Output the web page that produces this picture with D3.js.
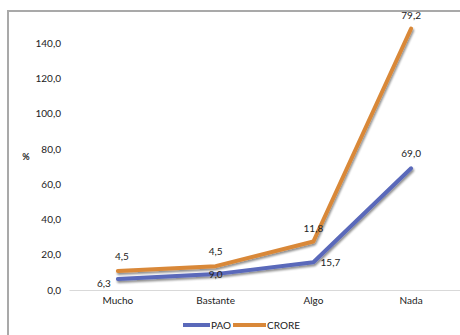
<!DOCTYPE html>
<html><head><meta charset="utf-8">
<script src="https://cdn.jsdelivr.net/npm/d3@7"></script>
<style>body{margin:0;background:#fff}svg{display:block}text{font-family:Lato,"Open Sans",sans-serif}</style>
</head><body>
<script>
const categories = ["Mucho","Bastante","Algo","Nada"];
const paoValues = [6.3, 9.0, 15.7, 69.0];
const croreValues = [4.5, 4.5, 11.8, 79.2];
const yTicks = [0,20,40,60,80,100,120,140];
const seriesNames = ["PAO","CRORE"];
const colors = {PAO:"#5A69BA", CRORE:"#D98839"};

const W=460,H=335;
const svg=d3.select("body").append("svg").attr("width",W).attr("height",H);
const defs=svg.append("defs");
const f=defs.append("filter").attr("id","sh").attr("x","-20%").attr("y","-20%").attr("width","140%").attr("height","140%");
f.append("feGaussianBlur").attr("in","SourceAlpha").attr("stdDeviation",1.3).attr("result","b");
f.append("feOffset").attr("in","b").attr("dx",1).attr("dy",1.5).attr("result","o");
f.append("feComponentTransfer").attr("in","o").attr("result","o2").append("feFuncA").attr("type","linear").attr("slope",0.45);
const m=f.append("feMerge");m.append("feMergeNode").attr("in","o2");m.append("feMergeNode").attr("in","SourceGraphic");

// frame
svg.append("rect").attr("x",8).attr("y",11).attr("width",470).attr("height",340)
  .attr("fill","none").attr("stroke","#a9a9a9").attr("stroke-width",2);

const x=d3.scaleBand().domain(categories).range([69,460]);
const y=d3.scaleLinear().domain([0,140]).range([290,43]);

// y axis labels
const ya=svg.append("g").attr("transform","translate(61,0)")
  .call(d3.axisLeft(y).tickValues(yTicks).tickSize(0).tickPadding(0).tickFormat(d=>d3.format(".1f")(d).replace(".",",")));
ya.select(".domain").remove();
ya.selectAll("text").attr("font-size",10).attr("fill","#222").attr("font-family","Lato,sans-serif");

// x axis
const xa=svg.append("g").attr("transform","translate(0,290)").call(d3.axisBottom(x).tickSize(0).tickPadding(7));
xa.select(".domain").attr("stroke","#d9d9d9").attr("stroke-width",1);
xa.selectAll("text").attr("font-size",10).attr("fill","#222").attr("font-family","Lato,sans-serif");

svg.append("text").attr("x",26).attr("y",160).attr("text-anchor","middle").attr("font-size",9).attr("font-weight","bold").attr("fill","#222").text("%");

const pao=categories.map((c,i)=>({c,v:paoValues[i],top:paoValues[i]}));
const crore=categories.map((c,i)=>({c,v:croreValues[i],top:paoValues[i]+croreValues[i]}));
const cx=c=>x(c)+x.bandwidth()/2;
const line=d3.line().x(d=>cx(d.c)).y(d=>y(d.top));

[["CRORE",crore],["PAO",pao]].forEach(([n,d])=>{
  svg.append("path").datum(d).attr("d",line).attr("fill","none").attr("stroke",colors[n])
    .attr("stroke-width",4).attr("stroke-linejoin","round").attr("stroke-linecap","round").attr("filter","url(#sh)");
});

const fmt=v=>d3.format(".1f")(v).replace(".",",");
const paoOff=[[-14,8],[0,4],[17,4],[0,-11]];
const croreOff=[[4,-11],[0,-11],[0,-9],[0,-10]];
svg.append("g").selectAll("text").data(pao).join("text")
  .attr("x",(d,i)=>cx(d.c)+paoOff[i][0]).attr("y",(d,i)=>y(d.top)+paoOff[i][1])
  .attr("text-anchor","middle").attr("font-size",10).attr("fill","#222").text(d=>fmt(d.v));
svg.append("g").selectAll("text").data(crore).join("text")
  .attr("x",(d,i)=>cx(d.c)+croreOff[i][0]).attr("y",(d,i)=>y(d.top)+croreOff[i][1])
  .attr("text-anchor","middle").attr("font-size",10).attr("fill","#222").text(d=>fmt(d.v));

// legend
const lg=svg.append("g");
const lx=[183,233], lw=[27,33];
seriesNames.forEach((n,i)=>{
  lg.append("line").attr("x1",lx[i]).attr("x2",lx[i]+lw[i]).attr("y1",325).attr("y2",325)
    .attr("stroke",colors[n]).attr("stroke-width",4);
  lg.append("text").attr("x",lx[i]+lw[i]+1).attr("y",328.5).attr("font-size",10).attr("fill","#222").text(n);
});
</script>
</body></html>
